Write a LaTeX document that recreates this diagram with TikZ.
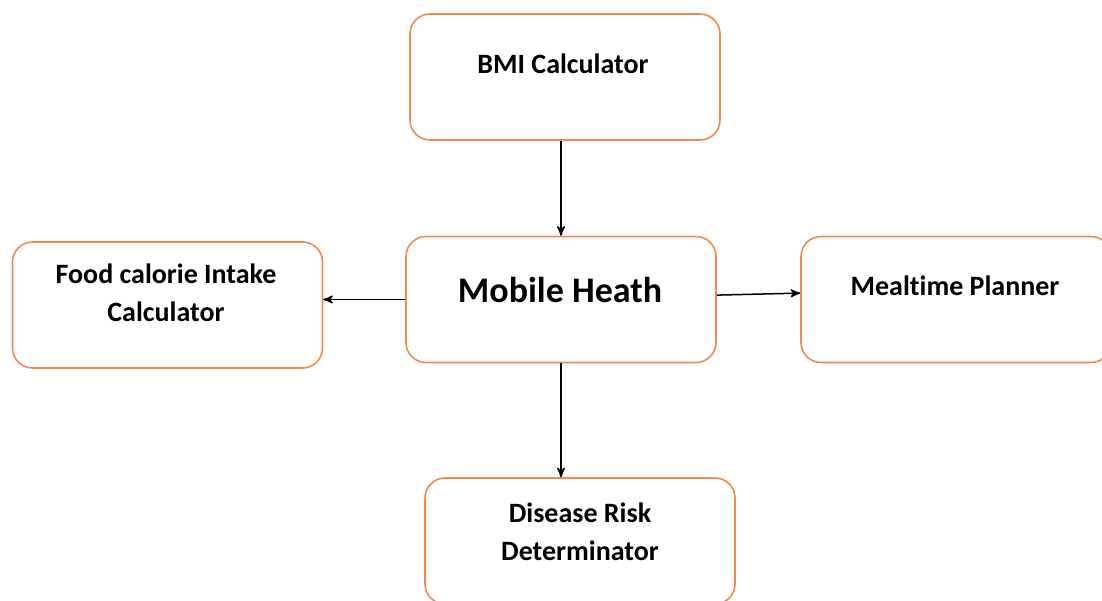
\documentclass[tikz,border=0pt]{standalone}
\usepackage{fontspec}
\setmainfont{Carlito}[Ligatures={NoCommon,NoRare}]
\usepackage{xcolor}
\usetikzlibrary{arrows,positioning}
\tikzset{>=stealth'}
\definecolor{boxorange}{HTML}{F08B4C}

\begin{document}
\begin{tikzpicture}[x=0.5pt,y=-0.5pt,
                    box/.style={draw=boxorange, line width=0.8pt, rounded corners=10pt,
                                minimum width=155pt, minimum height=63pt, inner sep=0pt},
                    boxtext/.style={font=\bfseries\fontsize{14}{19}\selectfont, align=center},
                    bigtext/.style={font=\bfseries\fontsize{18}{22}\selectfont},
                    link/.style={->, line width=0.75pt, black},
                   ]

\useasboundingbox (0,0) rectangle (1102,600);
\clip (0,0) rectangle (1102,600);

\node[box] (bmi) at (565,77) {};
\node[box] (mobile) at (561,299.5) {};
\node[box] (food) at (167.5,305) {};
\node[box] (meal) at (956,299.5) {};
\node[box] (disease) at (580,541) {};

\node[boxtext, anchor=base] (bmitext) at (563,73) {BMI Calculator};
\node[bigtext, anchor=base] (mobiletext) at (560,302) {Mobile Heath};
\node[boxtext, anchor=base] (foodtext) at (166,321) {Food calorie Intake\\Calculator};
\node[boxtext, anchor=base] (mealtext) at (955,295) {Mealtime Planner};
\node[boxtext, anchor=base] (diseasetext) at (580,560) {Disease Risk\\Determinator};

\draw[link] (bmi.south -| mobile.north) -- (mobile.north);
\draw[link] (mobile.west) -- (mobile.west -| food.east);
\draw[link] ([yshift=2.2pt]mobile.east) -- ([yshift=3.2pt]meal.west);
\draw[link] (mobile.south) -- (mobile.south |- disease.north);

\end{tikzpicture}
\end{document}
